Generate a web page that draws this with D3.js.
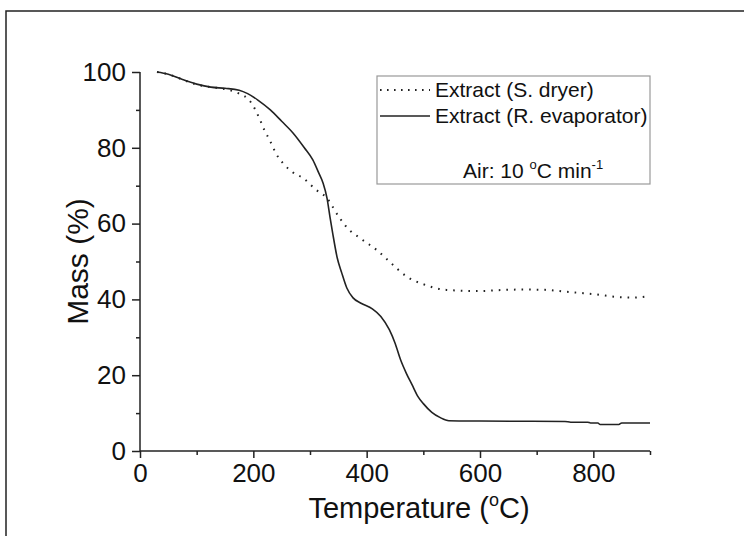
<!DOCTYPE html>
<html>
<head>
<meta charset="utf-8">
<script src="https://cdn.jsdelivr.net/npm/d3@7"></script>
<style>
	body { margin: 0; background: #fff; }
	text { font-family: "Liberation Sans", Arial, sans-serif; fill: #111; }
</style>
</head>
<body>
<div id="chart"></div>
<script>
// values
const sprayTemp = [30, 50, 75, 100, 125, 150, 175, 190, 200, 210, 220, 229, 240, 252, 270, 288, 310, 330, 350, 365, 390, 418, 440, 471, 500, 541, 600, 641, 680, 718, 753, 800, 847, 870, 894, 900];
const sprayMass = [100, 99.4, 98, 96.7, 96, 95.5, 94.3, 93, 91, 88, 84.5, 82, 78.5, 76, 73.5, 72, 69, 66.7, 62, 59, 56, 53, 50, 46, 44, 42.5, 42.2, 42.5, 42.6, 42.5, 42, 41.4, 40.6, 40.5, 40.8, 41];

const rotTemp = [30, 50, 75, 100, 125, 150, 175, 190, 208, 230, 250, 270, 290, 305, 315, 323, 330, 335, 340, 348, 356, 365, 376, 390, 410, 425, 440, 450, 460, 470, 480, 490, 500, 515, 530, 545, 600, 750, 760, 790, 795, 808, 812, 845, 850, 900];
const rotMass = [100, 99.4, 98, 96.8, 96, 95.7, 95.2, 94.3, 92.6, 90, 87, 83.9, 80, 76.8, 73.5, 70.7, 66.7, 62, 57.5, 51, 47, 43, 40.4, 39, 37.5, 35.5, 32, 28.5, 24, 20.5, 17.5, 14.5, 12.5, 10.2, 8.8, 8.0, 7.9, 7.8, 7.6, 7.6, 7.4, 7.4, 7.0, 7.0, 7.4, 7.4];

const xMajor = [0, 200, 400, 600, 800];
const xMinor = [100, 300, 500, 700, 900];
const yMajor = [0, 20, 40, 60, 80, 100];
const yMinor = [10, 30, 50, 70, 90];

const legendLabels = ["Extract (S. dryer)", "Extract (R. evaporator)"];

const width = 744, height = 536;
const margin = {t: 72, r: 94, b: 85, l: 140};

const svg = d3.select('#chart').append('svg')
	.attr('width', width)
	.attr('height', height);

// outer frame
svg.append('rect')
	.attr('x', 6).attr('y', 11)
	.attr('width', width).attr('height', height)
	.attr('fill', 'none')
	.attr('stroke', '#222')
	.attr('stroke-width', 1.5);

const scaleX = d3.scaleLinear().domain([0, 900]).range([margin.l, width - margin.r]);
const scaleY = d3.scaleLinear().domain([0, 100]).range([height - margin.b, margin.t]);

// axes
const axisX = d3.axisBottom(scaleX).tickValues(xMajor).tickSize(7).tickPadding(4).tickFormat(d3.format('d'));
const axisXMinor = d3.axisBottom(scaleX).tickValues(xMinor).tickSize(4).tickFormat('');
const axisY = d3.axisLeft(scaleY).tickValues(yMajor).tickSize(8).tickPadding(6).tickFormat(d3.format('d'));
const axisYMinor = d3.axisLeft(scaleY).tickValues(yMinor).tickSize(4).tickFormat('');

const gx = svg.append('g').attr('transform', `translate(0,${scaleY(0)})`).call(axisX);
svg.append('g').attr('transform', `translate(0,${scaleY(0)})`).call(axisXMinor).select('.domain').remove();
const gy = svg.append('g').attr('transform', `translate(${scaleX(0)},0)`).call(axisY);
svg.append('g').attr('transform', `translate(${scaleX(0)},0)`).call(axisYMinor).select('.domain').remove();

gx.select('.domain').attr('d', `M${scaleX(0)},0H${scaleX(900)}`);
gy.select('.domain').attr('d', `M0,${scaleY(0)}V${scaleY(100)}`);

svg.selectAll('.tick line, .domain')
	.attr('stroke', '#222')
	.attr('stroke-width', 1.5);
svg.selectAll('.tick text')
	.attr('font-size', 26)
	.attr('font-family', '"Liberation Sans", Arial, sans-serif')
	.attr('fill', '#111');
gx.selectAll('.tick text').attr('dy', '0.76em');

// axis titles
const xTitle = svg.append('text')
	.attr('x', 419).attr('y', 518)
	.attr('text-anchor', 'middle')
	.attr('font-size', 29);
xTitle.append('tspan').text('Temperature (');
xTitle.append('tspan').attr('font-size', 18).attr('dy', -12).text('o');
xTitle.append('tspan').attr('dy', 12).text('C)');

svg.append('text')
	.attr('transform', `translate(88,${(scaleY(0) + scaleY(100)) / 2}) rotate(-90)`)
	.attr('text-anchor', 'middle')
	.attr('font-size', 30)
	.text('Mass (%)');

// curves
const line = d3.line()
	.x(d => scaleX(d[0]))
	.y(d => scaleY(d[1]))
	.curve(d3.curveMonotoneX);

const spray = sprayTemp.map((t, i) => [t, sprayMass[i]]);
const rot = rotTemp.map((t, i) => [t, rotMass[i]]);

svg.append('path')
	.datum(spray)
	.attr('d', line)
	.attr('fill', 'none')
	.attr('stroke', '#222')
	.attr('stroke-width', 2)
	.attr('stroke-dasharray', '1.6 6');

svg.append('path')
	.datum(rot)
	.attr('d', line)
	.attr('fill', 'none')
	.attr('stroke', '#222')
	.attr('stroke-width', 1.6);

// legend
const legend = svg.append('g');
legend.append('rect')
	.attr('x', 377).attr('y', 76)
	.attr('width', 273).attr('height', 108)
	.attr('fill', '#fff')
	.attr('stroke', '#999')
	.attr('stroke-width', 1.2);

const dashes = ['1.6 5.4', null];
legendLabels.forEach((label, i) => {
	const y = 90 + i * 26;
	legend.append('line')
		.attr('x1', 380).attr('x2', 430)
		.attr('y1', y).attr('y2', y)
		.attr('stroke', '#222')
		.attr('stroke-width', i === 0 ? 2 : 1.6)
		.attr('stroke-dasharray', dashes[i]);
	legend.append('text')
		.attr('x', 435).attr('y', y + 7)
		.attr('font-size', 21)
		.text(label);
});

const note = legend.append('text')
	.attr('x', 463).attr('y', 178)
	.attr('font-size', 21);
note.append('tspan').text('Air: 10 ');
note.append('tspan').attr('font-size', 13).attr('dy', -9).text('o');
note.append('tspan').attr('dy', 9).text('C min');
note.append('tspan').attr('font-size', 13).attr('dy', -9).text('-1');
</script>
</body>
</html>
